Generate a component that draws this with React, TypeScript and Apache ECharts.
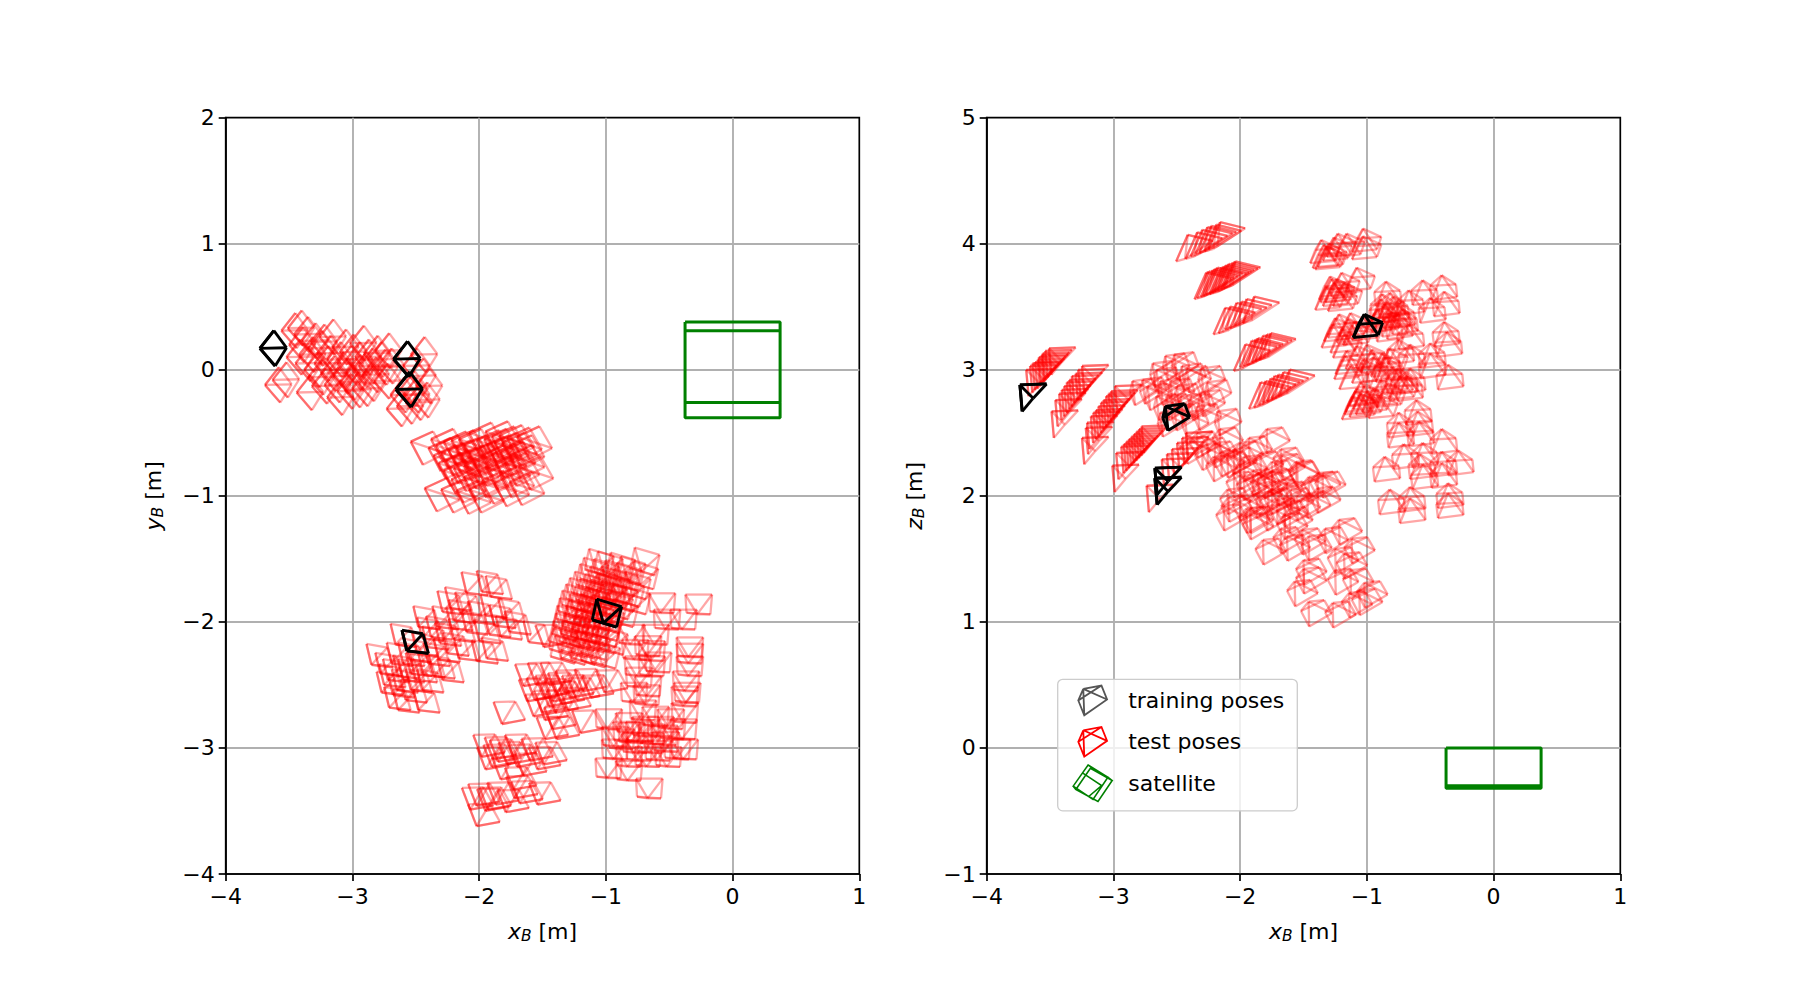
import { useEffect, useRef } from "react";
import * as echarts from "echarts";

type Pt = number[];

// pose anchors, one list per group of similar looking frusta
// x-y view
const xyTrainDiamond: Pt[] = [[-3.73, 0.17], [-2.675, 0.085], [-2.657, -0.156]];
const xyTrainSquare: Pt[] = [[-2.57, -2.23]];
const xyTrainTilted: Pt[] = [[-1.02, -2.01]];

const xyTestDiamond: Pt[] = [
  [-3.56, 0.31], [-3.51, 0.33], [-3.4, 0.23], [-3.26, 0.26], [-3.16, 0.18], [-3.02, 0.21], [-2.91, 0.13], [-2.82, 0.15],
  [-2.54, 0.12], [-3.69, -0.12], [-3.63, -0.08], [-3.44, -0.18], [-3.32, -0.13], [-3.2, -0.22], [-3.12, -0.17],
  [-3.0, -0.15], [-2.95, -0.11], [-2.83, -0.09], [-2.73, -0.31], [-2.65, -0.29], [-2.58, -0.26], [-2.52, -0.24],
  [-3.5, 0.2], [-3.42, 0.12], [-3.52, 0.1], [-3.35, 0.17], [-3.3, 0.05], [-3.2, 0.08], [-3.12, 0.05], [-3.05, 0.08],
  [-2.95, 0.03], [-2.85, 0.02], [-3.38, 0.0], [-3.25, -0.03], [-3.15, -0.05], [-3.05, -0.02], [-2.92, -0.04],
  [-2.8, 0.03], [-2.6, 0.03], [-2.55, -0.05], [-2.5, -0.13], [-2.62, -0.15], [-2.7, -0.2], [-2.6, -0.2],
  [-3.28, 0.13], [-3.45, 0.05], [-3.1, -0.1], [-3.22, -0.12], [-3.46, 0.28], [-3.33, 0.22], [-3.1, 0.14], [-2.98, 0.1],
  [-3.18, 0.0], [-3.0, 0.0], [-2.88, 0.08], [-3.35, -0.06], [-3.06, -0.16],
];
const xyTestTiltedA: Pt[] = [
  [-2.54, -0.57], [-2.38, -0.55], [-2.08, -0.5], [-1.95, -0.49], [-1.7, -0.53], [-1.69, -0.77], [-2.43, -0.94],
  [-2.3, -0.95], [-2.18, -0.96], [-2.08, -0.95], [-1.88, -0.9], [-1.76, -0.89], [-2.4, -0.62], [-2.34, -0.6],
  [-2.28, -0.57], [-2.22, -0.56], [-2.16, -0.55], [-2.36, -0.68], [-2.3, -0.66], [-2.24, -0.64], [-2.18, -0.62],
  [-2.12, -0.6], [-2.32, -0.74], [-2.26, -0.72], [-2.2, -0.7], [-2.14, -0.68], [-2.08, -0.66], [-2.28, -0.8],
  [-2.2, -0.78], [-2.12, -0.76], [-2.04, -0.74], [-2.22, -0.87], [-2.12, -0.85], [-2.04, -0.83], [-2.02, -0.56],
  [-1.96, -0.55], [-1.9, -0.53], [-1.84, -0.52], [-1.78, -0.54], [-2.0, -0.62], [-1.94, -0.6], [-1.88, -0.58],
  [-1.82, -0.58], [-1.76, -0.6], [-1.98, -0.68], [-1.9, -0.67], [-1.83, -0.65], [-1.76, -0.68], [-1.95, -0.77],
  [-1.87, -0.75], [-1.8, -0.74], [-1.98, -0.88], [-1.84, -0.83],
];
const xyTestSquare: Pt[] = [
  [-2.85, -2.34], [-2.77, -2.56], [-2.71, -2.68], [-2.64, -2.7], [-2.48, -2.7], [-2.69, -2.33], [-2.78, -2.41],
  [-2.72, -2.46], [-2.64, -2.43], [-2.54, -2.41], [-2.45, -2.54], [-2.36, -2.43], [-2.29, -2.46], [-2.16, -2.29],
  [-2.02, -2.31], [-1.94, -2.29], [-2.29, -1.92], [-2.23, -1.89], [-2.48, -2.04], [-2.66, -2.18], [-2.33, -2.04],
  [-2.1, -1.77], [-2.15, -1.93], [-1.98, -1.76], [-1.91, -1.8], [-1.81, -1.98], [-1.76, -2.08], [-1.61, -2.16],
  [-1.83, -2.12], [-2.6, -2.33], [-2.49, -2.25], [-2.41, -2.2], [-2.31, -2.17], [-2.2, -2.14], [-2.65, -2.54],
  [-2.54, -2.54], [-2.6, -2.46], [-2.5, -2.46], [-2.4, -2.33], [-2.32, -2.3], [-2.25, -2.25], [-2.1, -2.08],
  [-2.05, -2.0], [-1.95, -1.95], [-2.0, -2.15], [-1.88, -2.03], [-2.22, -2.05], [-2.75, -2.5], [-2.68, -2.58],
  [-2.58, -2.62], [-2.44, -2.42], [-2.55, -2.3], [-2.45, -2.13], [-2.38, -2.12], [-2.2, -1.99], [-1.92, -2.1],
];
const xyTestTiltedB: Pt[] = [
  [-1.08, -1.61], [-1.01, -1.63], [-0.91, -1.64], [-0.83, -1.67], [-0.72, -1.6], [-0.73, -1.71],
  [-1.15, -1.73], [-1.07, -1.75], [-0.98, -1.75], [-0.89, -1.77], [-0.79, -1.79],
  [-1.23, -1.84], [-1.15, -1.85], [-1.07, -1.87], [-0.98, -1.87], [-0.89, -1.89], [-0.79, -1.91],
  [-1.29, -1.94], [-1.23, -1.97], [-1.15, -1.97], [-1.06, -1.98], [-0.98, -2.0], [-0.89, -2.01],
  [-1.33, -2.06], [-1.26, -2.06], [-1.18, -2.09], [-1.1, -2.1], [-1.02, -2.12],
  [-1.36, -2.18], [-1.28, -2.18], [-1.2, -2.2], [-1.12, -2.21], [-1.04, -2.22], [-0.97, -2.23],
  [-1.35, -2.3], [-1.27, -2.31], [-1.19, -2.31], [-1.11, -2.33], [-1.03, -2.34],
  [-1.12, -1.68], [-1.04, -1.69], [-0.95, -1.7], [-0.86, -1.72], [-1.19, -1.79], [-1.11, -1.81], [-1.02, -1.81],
  [-0.93, -1.83], [-0.84, -1.85], [-1.26, -1.89], [-1.19, -1.91], [-1.11, -1.92], [-1.02, -1.93], [-0.93, -1.95],
  [-1.31, -2.0], [-1.24, -2.02], [-1.16, -2.03], [-1.08, -2.04], [-1.0, -2.06], [-1.34, -2.12], [-1.27, -2.12],
  [-1.19, -2.14], [-1.11, -2.16], [-1.03, -2.17], [-1.36, -2.24], [-1.27, -2.25], [-1.19, -2.26], [-1.11, -2.27],
];
const xyTestUpright: Pt[] = [
  [-0.57, -1.93], [-0.28, -1.94], [-0.4, -2.06], [-0.53, -2.06], [-0.35, -2.28], [-0.35, -2.33], [-0.35, -2.43],
  [-0.65, -2.43], [-0.76, -2.43], [-0.65, -2.31], [-0.78, -2.3], [-0.68, -2.27], [-0.62, -2.18], [-0.81, -2.18],
  [-0.69, -2.66], [-0.79, -2.64], [-0.39, -2.67], [-0.39, -2.8], [-0.37, -2.64], [-0.68, -2.59], [-0.99, -2.85],
  [-0.83, -2.88], [-0.81, -2.96], [-0.7, -2.91], [-0.58, -2.91], [-0.49, -2.93], [-0.4, -2.93], [-0.89, -3.01],
  [-0.78, -3.04], [-0.66, -3.04], [-0.54, -3.03], [-0.39, -3.09], [-0.45, -3.09], [-0.94, -3.09], [-0.83, -3.15],
  [-0.68, -3.15], [-0.52, -3.15], [-0.99, -3.24], [-0.83, -3.26], [-0.67, -3.4], [-0.94, -2.99], [-0.75, -2.52],
  [-0.6, -2.4], [-0.38, -2.55], [-0.72, -2.78], [-0.62, -2.83], [-0.5, -2.85], [-0.75, -2.95], [-0.65, -2.97],
  [-0.55, -2.98], [-0.85, -2.95], [-0.75, -3.1], [-0.6, -3.1],
];
const xyTestSlanted: Pt[] = [
  [-1.65, -2.51], [-1.56, -2.62], [-1.49, -2.6], [-1.39, -2.58], [-1.33, -2.56], [-1.23, -2.62], [-1.12, -2.6],
  [-1.01, -2.56], [-1.48, -2.78], [-1.57, -2.75], [-1.48, -2.93], [-1.39, -2.93], [-1.2, -2.88], [-1.82, -2.81],
  [-1.98, -3.07], [-1.95, -3.17], [-1.85, -3.11], [-1.73, -3.07], [-1.65, -3.22], [-1.54, -3.17], [-1.49, -3.13],
  [-2.02, -3.46], [-2.07, -3.49], [-2.02, -3.62], [-1.93, -3.49], [-1.79, -3.51], [-1.68, -3.44], [-1.54, -3.45],
  [-1.73, -3.33], [-1.83, -3.25], [-1.89, -3.09], [-1.49, -2.2], [-1.45, -2.67], [-1.35, -2.65], [-1.3, -2.7], [-1.42, -2.85],
  [-1.9, -3.15], [-1.78, -3.13], [-1.7, -3.15], [-1.6, -3.1], [-1.95, -3.5], [-1.87, -3.45], [-1.72, -3.4], [-1.62, -2.63],
  [-1.42, -2.63], [-1.28, -2.6], [-1.18, -2.55], [-1.5, -2.72], [-1.4, -2.72], [-1.55, -2.5], [-1.45, -2.5],
];

// x-z view
const xzTrainWedge: Pt[] = [[-3.72, 2.67], [-2.655, 2.01], [-2.655, 1.93]];
const xzTrainHouse: Pt[] = [[-2.59, 2.71]];
const xzTrainRoof: Pt[] = [[-1.02, 3.44]];

const xzTestStrip: Pt[] = [
  [-2.505, 3.86], [-2.43, 3.88], [-2.39, 3.9], [-2.35, 3.92], [-2.32, 3.93], [-2.28, 3.94], [-2.25, 3.96],
  [-2.36, 3.56], [-2.34, 3.57], [-2.31, 3.58], [-2.29, 3.59], [-2.27, 3.6], [-2.24, 3.6], [-2.22, 3.61], [-2.2, 3.62], [-2.18, 3.63], [-2.15, 3.64], [-2.13, 3.65],
  [-2.21, 3.28], [-2.17, 3.29], [-2.12, 3.32], [-2.08, 3.33], [-2.04, 3.35], [-1.98, 3.37],
  [-2.05, 2.99], [-2.0, 3.02], [-1.97, 3.03], [-1.95, 3.04], [-1.91, 3.06], [-1.88, 3.07], [-1.85, 3.08],
  [-1.93, 2.69], [-1.89, 2.7], [-1.85, 2.72], [-1.82, 2.74], [-1.79, 2.75], [-1.75, 2.77], [-1.7, 2.79],
];
const xzTestWedge: Pt[] = [
  [-3.67, 2.79], [-3.64, 2.82], [-3.62, 2.84], [-3.6, 2.85], [-3.58, 2.87], [-3.57, 2.89], [-3.55, 2.905], [-3.54, 2.92], [-3.52, 2.94], [-3.49, 2.96],
  [-3.47, 2.46], [-3.44, 2.55], [-3.41, 2.6], [-3.39, 2.63], [-3.37, 2.66], [-3.35, 2.69], [-3.33, 2.71], [-3.31, 2.74], [-3.28, 2.76], [-3.26, 2.79], [-3.23, 2.82],
  [-3.23, 2.25], [-3.2, 2.33], [-3.19, 2.37], [-3.16, 2.42], [-3.14, 2.45], [-3.12, 2.47], [-3.1, 2.5], [-3.08, 2.53], [-3.06, 2.55], [-3.04, 2.58], [-3.02, 2.6], [-3.0, 2.62], [-2.97, 2.66],
  [-2.99, 2.03], [-2.96, 2.13], [-2.92, 2.18], [-2.9, 2.2], [-2.88, 2.22], [-2.86, 2.24], [-2.84, 2.26], [-2.82, 2.28], [-2.8, 2.3], [-2.78, 2.32], [-2.76, 2.34],
  [-2.72, 1.87], [-2.6, 2.08], [-2.56, 2.12], [-2.52, 2.16], [-2.48, 2.21], [-2.44, 2.25], [-2.41, 2.29],
];
const xzTestHouse: Pt[] = [
  [-2.85, 2.91], [-2.77, 2.92], [-2.69, 3.05], [-2.66, 3.0], [-2.59, 3.11], [-2.52, 3.12], [-2.46, 3.03], [-2.42, 3.01],
  [-2.31, 3.01], [-2.26, 2.9], [-2.63, 2.91], [-2.55, 2.91], [-2.5, 2.87], [-2.73, 2.87], [-2.66, 2.79], [-2.58, 2.79],
  [-2.47, 2.79], [-2.39, 2.79], [-2.34, 2.71], [-2.52, 2.71], [-2.63, 2.66], [-2.44, 2.66], [-2.31, 2.82], [-2.18, 2.67],
];
const xzTestTilted: Pt[] = [
  [-2.34, 2.5], [-2.42, 2.45], [-2.26, 2.45], [-2.16, 2.53], [-2.05, 2.37], [-1.79, 2.53], [-1.93, 2.46], [-2.1, 2.34],
  [-2.21, 2.31], [-1.97, 2.31], [-1.84, 2.34], [-1.68, 2.37], [-1.55, 2.26], [-1.39, 2.18], [-1.97, 2.16], [-1.81, 2.18],
  [-1.63, 2.1], [-1.47, 2.02], [-2.1, 2.05], [-2.0, 2.0], [-1.87, 2.02], [-1.71, 1.97], [-1.92, 1.9], [-1.79, 1.92], [-2.13, 1.92],
  [-1.82, 1.65], [-1.68, 1.74], [-1.63, 1.68], [-1.51, 1.73], [-1.46, 1.68], [-1.33, 1.74], [-1.22, 1.81], [-1.12, 1.66],
  [-1.25, 1.58], [-1.18, 1.54], [-1.5, 1.49], [-1.57, 1.32], [-1.5, 1.42], [-1.25, 1.41], [-1.13, 1.41], [-1.02, 1.31],
  [-1.46, 1.16], [-1.27, 1.15], [-1.14, 1.23], [-1.06, 1.25], [-1.92, 1.85], [-1.65, 1.95], [-1.61, 1.9], [-1.46, 2.15],
  [-1.35, 2.18], [-1.39, 2.06], [-1.56, 2.27], [-1.67, 2.32], [-1.75, 2.27], [-2.09, 1.99], [-1.95, 1.9], [-1.78, 2.04],
  [-2.05, 2.18], [-1.86, 2.18], [-2.3, 2.4], [-2.2, 2.42], [-2.15, 2.35], [-2.0, 2.42], [-1.9, 2.2], [-2.0, 2.25],
  [-1.75, 2.2], [-1.7, 2.12], [-1.85, 2.1], [-1.75, 2.05], [-1.6, 2.05], [-1.55, 2.0], [-1.65, 1.85],
];
const xzTestRoof: Pt[] = [
  [-0.85, 3.7], [-0.56, 3.71], [-0.41, 3.75], [-0.39, 3.62], [-0.5, 3.57], [-0.67, 3.63], [-0.82, 3.61], [-0.39, 3.38],
  [-0.37, 3.3], [-0.67, 3.36], [-0.66, 3.2], [-0.5, 3.21], [-0.5, 3.13], [-0.36, 3.04], [-0.75, 3.24], [-0.66, 3.01],
  [-0.76, 3.01], [-0.75, 2.66], [-0.75, 2.58], [-0.61, 2.76], [-0.6, 2.67], [-0.59, 2.59], [-0.41, 2.53], [-0.71, 2.41],
  [-0.56, 2.42], [-0.86, 2.31], [-0.58, 2.33], [-0.56, 2.25], [-0.41, 2.35], [-0.28, 2.36], [-0.41, 2.26], [-0.82, 2.05],
  [-0.66, 2.07], [-0.66, 1.98], [-0.36, 2.1], [-0.36, 2.02], [-0.89, 3.56], [-0.79, 3.58], [-0.87, 3.5], [-0.74, 3.53], [-0.88, 3.6],
  [-0.84, 3.42], [-0.8, 3.46], [-0.76, 3.44], [-0.72, 3.48], [-0.86, 3.52], [-0.78, 3.52], [-0.95, 3.1], [-0.9, 3.05],
  [-0.85, 3.1], [-0.8, 3.02], [-0.72, 3.0], [-0.68, 2.95],
];
const xzTestLeaning: Pt[] = [
  [-1.36, 4.03], [-1.23, 4.08], [-1.16, 4.08], [-1.03, 4.12], [-1.03, 4.06], [-1.32, 3.98], [-1.34, 3.99], [-1.08, 3.81],
  [-1.2, 3.77], [-1.29, 3.74], [-1.26, 3.69], [-1.32, 3.66], [-1.18, 3.69], [-1.22, 3.44], [-1.25, 3.41], [-1.16, 3.15],
  [-1.17, 3.11], [-1.13, 3.03], [-1.08, 3.19], [-1.0, 3.2], [-0.96, 3.16], [-0.88, 3.13], [-0.82, 3.17], [-1.08, 2.85],
  [-1.09, 2.83], [-1.05, 2.81], [-1.0, 2.83], [-1.11, 2.79], [-0.89, 2.92], [-0.84, 2.89], [-0.74, 2.95], [-1.03, 3.42],
  [-1.13, 3.45], [-1.2, 3.32], [-0.92, 3.48], [-1.03, 3.08], [-1.3, 4.0], [-1.26, 4.05], [-1.28, 3.72], [-1.24, 3.72],
  [-1.22, 3.65], [-1.15, 3.4], [-1.1, 3.38], [-1.18, 3.28], [-1.27, 3.36], [-1.05, 2.9], [-1.02, 2.87], [-0.95, 2.85], [-0.9, 2.8],
];

// satellite outline, walked as one line
const satelliteXY: Pt[] = [
  [-0.375, 0.38], [0.375, 0.38], [0.375, -0.38], [-0.375, -0.38], [-0.375, 0.38],
  [-0.375, 0.31], [0.375, 0.31], [0.375, -0.26], [-0.375, -0.26], [-0.375, 0.31],
];
const satelliteXZ: Pt[] = [
  [-0.375, 0], [0.375, 0], [0.375, -0.32], [-0.375, -0.32], [-0.375, 0],
  [-0.375, -0.3], [0.375, -0.3],
];

const xTicks = { min: -4, max: 1, interval: 1 };

// frustum outlines in data units around the anchor: eye point, then the four frame corners
const shapes: Record<string, number[][]> = {
  diamond: [[0, 0], [0.11, 0.14], [0.21, 0.005], [0.12, -0.14], [0, 0]],
  tiltedA: [[0, 0], [0.176, 0.081], [0.276, -0.092], [0.097, -0.184], [0, 0]],
  square: [[0, 0], [-0.039, 0.165], [0.126, 0.136], [0.17, -0.02], [0, 0]],
  tiltedB: [[0, 0], [-0.052, 0.19], [0.144, 0.131], [0.105, -0.031], [-0.087, 0.026]],
  upright: [[0, 0], [-0.092, 0.157], [0.118, 0.157], [0.105, 0], [-0.084, 0.013]],
  slanted: [[0, 0], [-0.066, 0.173], [0.105, 0.178], [0.184, 0.034], [0, 0]],
  strip: [[0.092, 0.211], [0.092, 0.211], [0.29, 0.163], [0.07, 0.02], [0, 0]],
  wedge: [[-0.018, 0.21], [0.192, 0.218], [0.087, 0.105], [0, 0], [-0.018, 0.21]],
  house: [[0, 0], [0.152, 0.021], [0.192, -0.084], [0.021, -0.192], [-0.021, -0.092]],
  tilted: [[0, 0], [-0.06, -0.073], [0.123, 0.013], [0.184, -0.092], [0.005, -0.197]],
  roof: [[0, 0], [-0.092, -0.084], [0.113, -0.073], [0.123, -0.171], [-0.079, -0.197]],
  leaning: [[0, 0], [-0.047, -0.079], [0.144, -0.066], [0.11, -0.165], [-0.087, -0.184]],
};

const FONT = "DejaVu Sans";
const TRAIN = "training poses";
const TEST = "test poses";
const SAT = "satellite";

// the zero length bits keep the pose glyph at its real size inside the 39x37 legend cell
const poseIcon =
  "path://M89.5 45L89.5 45M207.5 155L207.5 155M120 65L175 55L192 97L123 145L105 100L175 55M120 65L192 97M120 65L123 145M120 65L105 100";
const satIcon =
  "path://M145 288L205 325L160 392L100 352ZM152 298L218 335L175 398L108 362ZM128 312L186 350L146 384M205 325L218 335M100 352L108 362";

function poseSeries(name: string, view: number, shape: string, data: Pt[]) {
  const pts = shapes[shape];
  const black = name === TRAIN;
  const style = {
    stroke: black ? "#000" : "#f00",
    lineWidth: black ? 2.9 : 2.3,
    opacity: black ? 1 : 0.35,
    fill: "none",
  };
  return {
    type: "custom",
    name,
    xAxisIndex: view,
    yAxisIndex: view,
    silent: true,
    data,
    encode: { x: 0, y: 1 },
    z: black ? 5 : 3,
    renderItem: (_: any, api: any) => {
      const ax = api.value(0);
      const ay = api.value(1);
      const p = pts.map((d) => api.coord([ax + d[0], ay + d[1]]));
      const seg = (a: number[], b: number[]) => ({
        type: "line",
        shape: { x1: a[0], y1: a[1], x2: b[0], y2: b[1] },
        style,
      });
      return {
        type: "group",
        children: [
          seg(p[1], p[2]), seg(p[2], p[3]), seg(p[3], p[4]), seg(p[4], p[1]),
          seg(p[0], p[1]), seg(p[0], p[2]), seg(p[0], p[3]), seg(p[0], p[4]),
        ],
      };
    },
  };
}

function satelliteSeries(view: number, data: Pt[]) {
  return {
    type: "line",
    name: SAT,
    xAxisIndex: view,
    yAxisIndex: view,
    silent: true,
    data,
    showSymbol: false,
    z: 4,
    lineStyle: { color: "#008000", width: 3 },
  };
}

function axisBase(name: string) {
  return {
    name,
    nameLocation: "middle" as const,
    nameTextStyle: {
      color: "#000",
      fontFamily: FONT,
      fontSize: 22,
      rich: {
        i: { fontFamily: FONT, fontSize: 22, fontStyle: "italic" as const, color: "#000" },
        s: { fontFamily: FONT, fontSize: 15.5, fontStyle: "italic" as const, color: "#000", padding: [9, 0, 0, 0] },
        t: { fontFamily: FONT, fontSize: 22, color: "#000" },
      },
    },
    axisLine: { show: true, onZero: false, lineStyle: { color: "#000", width: 1.7 } },
    axisTick: { show: true, length: 7, lineStyle: { color: "#000", width: 1.7 } },
    axisLabel: {
      color: "#000",
      fontFamily: FONT,
      fontSize: 22,
      margin: 11,
      formatter: (v: number) => String(v).replace("-", "\u2212"),
    },
    splitLine: { show: true, showMinLine: false, showMaxLine: false, lineStyle: { color: "#b0b0b0", width: 1.9 } },
  };
}

export default function App() {
  const chartRef = useRef<HTMLDivElement>(null);

  useEffect(() => {
    if (!chartRef.current) return;
    const chart = echarts.init(chartRef.current, null, { renderer: "svg" });

    const gridBase = { top: 117.7, height: 756.3, width: 633.6, show: true, borderColor: "#000", borderWidth: 1.7 };

    const option: any = {
      animation: false,
      backgroundColor: "#fff",
      grid: [
        { ...gridBase, left: 225.7 },
        { ...gridBase, left: 986.7 },
      ],
      xAxis: [
        { ...axisBase("{i|x}{s|B}{t| [m]}"), ...xTicks, type: "value", gridIndex: 0, nameGap: 45 },
        { ...axisBase("{i|x}{s|B}{t| [m]}"), ...xTicks, type: "value", gridIndex: 1, nameGap: 45 },
      ],
      yAxis: [
        { ...axisBase("{i|y}{s|B}{t| [m]}"), type: "value", gridIndex: 0, min: -4, max: 2, interval: 1, nameGap: 60 },
        { ...axisBase("{i|z}{s|B}{t| [m]}"), type: "value", gridIndex: 1, min: -1, max: 5, interval: 1, nameGap: 60 },
      ],
      legend: {
        show: true,
        orient: "vertical",
        left: 1057.7,
        top: 679.3,
        padding: [0.5, 13, 7, 13],
        itemWidth: 39,
        itemHeight: 37,
        itemGap: 0,
        selectedMode: false,
        backgroundColor: "rgba(255,255,255,0.8)",
        borderColor: "#ccc",
        borderWidth: 1.3,
        borderRadius: 5,
        textStyle: { color: "#000", fontFamily: FONT, fontSize: 22, padding: [0, 0, 0, 11] },
        data: [
          { name: TRAIN, icon: poseIcon, itemStyle: { color: "none", borderColor: "#555", borderWidth: 1.8, opacity: 1 } },
          { name: TEST, icon: poseIcon, itemStyle: { color: "none", borderColor: "#f00", borderWidth: 1.8, opacity: 1 } },
          { name: SAT, icon: satIcon, itemStyle: { color: "none", borderColor: "#008000", borderWidth: 1.6, opacity: 1 } },
        ],
      },
      series: [
        poseSeries(TEST, 0, "diamond", xyTestDiamond),
        poseSeries(TEST, 0, "tiltedA", xyTestTiltedA),
        poseSeries(TEST, 0, "square", xyTestSquare),
        poseSeries(TEST, 0, "tiltedB", xyTestTiltedB),
        poseSeries(TEST, 0, "upright", xyTestUpright),
        poseSeries(TEST, 0, "slanted", xyTestSlanted),
        poseSeries(TRAIN, 0, "diamond", xyTrainDiamond),
        poseSeries(TRAIN, 0, "square", xyTrainSquare),
        poseSeries(TRAIN, 0, "tiltedB", xyTrainTilted),
        satelliteSeries(0, satelliteXY),
        poseSeries(TEST, 1, "strip", xzTestStrip),
        poseSeries(TEST, 1, "wedge", xzTestWedge),
        poseSeries(TEST, 1, "house", xzTestHouse),
        poseSeries(TEST, 1, "tilted", xzTestTilted),
        poseSeries(TEST, 1, "roof", xzTestRoof),
        poseSeries(TEST, 1, "leaning", xzTestLeaning),
        poseSeries(TRAIN, 1, "wedge", xzTrainWedge),
        poseSeries(TRAIN, 1, "house", xzTrainHouse),
        poseSeries(TRAIN, 1, "leaning", xzTrainRoof),
        satelliteSeries(1, satelliteXZ),
      ],
    };

    chart.setOption(option);

    return () => {
      chart.dispose();
    };
  }, []);

  return <div ref={chartRef} style={{ position: "fixed", left: 0, top: 0, width: 1800, height: 982 }} />;
}
